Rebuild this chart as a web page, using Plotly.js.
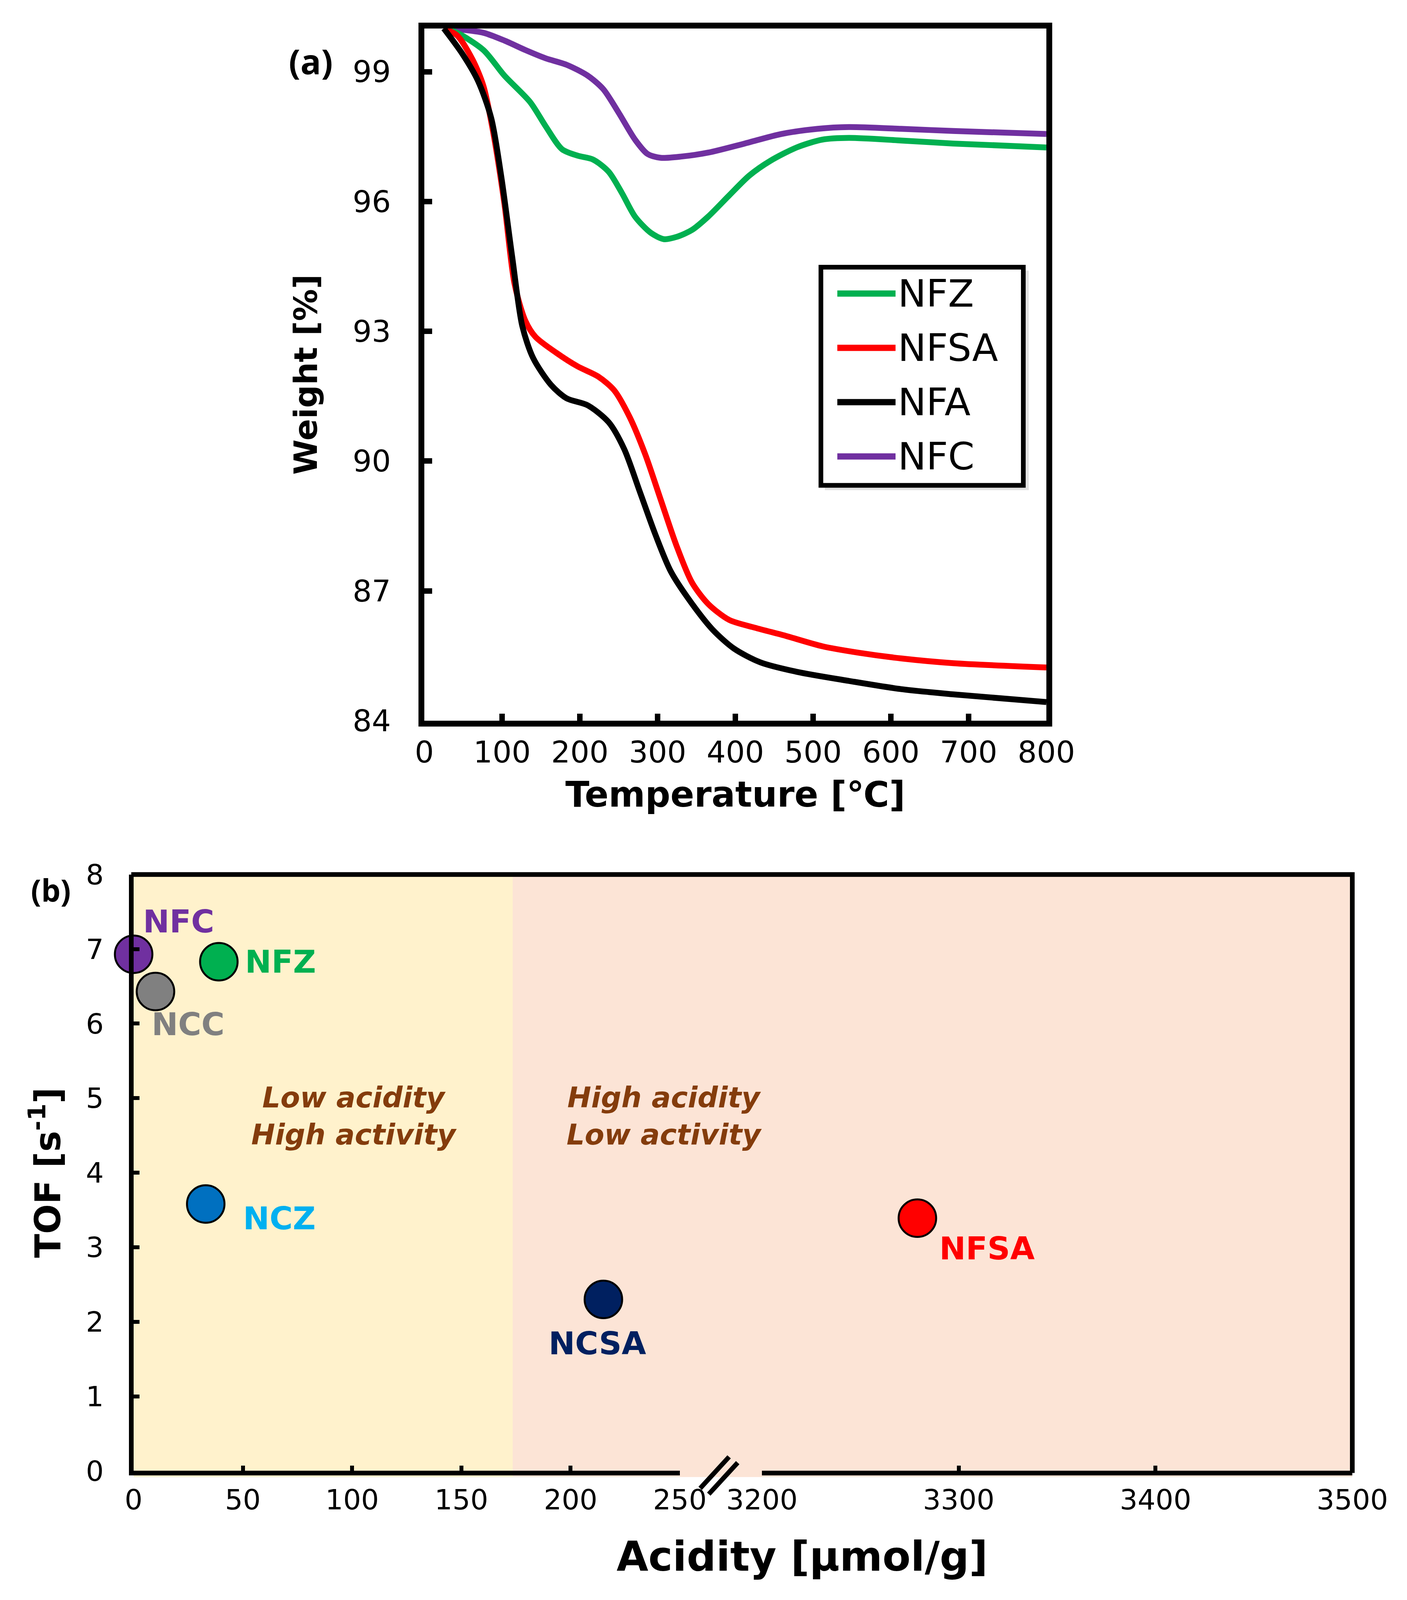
<!DOCTYPE html>
<html><head><meta charset="utf-8">
<script src="https://cdn.plot.ly/plotly-3.0.1.min.js"></script>
<style>html,body{margin:0;padding:0;background:#fff;overflow:hidden;}#chart{width:3601px;height:4096px;}</style>
</head><body><div id="chart"></div>
<script>
// ================= DATA: (a) TGA curves =================
const seriesNames = ['NFZ', 'NFSA', 'NFA', 'NFC'];

const nfzTemp   = [25, 42, 76, 103, 136, 156, 177, 197, 217, 237, 254, 271, 291, 308, 324, 344, 365, 392, 418, 445, 479, 512, 546, 613, 680, 800];
const nfzWeight = [100, 99.9, 99.5, 98.91, 98.3, 97.74, 97.21, 97.06, 96.97, 96.69, 96.2, 95.65, 95.28, 95.13, 95.18, 95.34, 95.65, 96.14, 96.6, 96.94, 97.25, 97.43, 97.47, 97.41, 97.34, 97.25];

const nfsaTemp   = [25, 42, 62, 76, 89, 103, 116, 130, 143, 170, 197, 224, 244, 264, 284, 304, 324, 344, 365, 392, 425, 465, 512, 559, 613, 680, 800];
const nfsaWeight = [100, 99.84, 99.28, 98.67, 97.56, 95.95, 94.1, 93.24, 92.87, 92.5, 92.19, 91.95, 91.64, 91.02, 90.16, 89.11, 88.06, 87.2, 86.7, 86.33, 86.15, 85.96, 85.72, 85.57, 85.44, 85.33, 85.23];

const nfaTemp   = [25, 49, 69, 86, 99, 113, 126, 140, 163, 183, 210, 237, 257, 277, 297, 317, 344, 371, 398, 432, 479, 546, 613, 680, 800];
const nfaWeight = [100, 99.41, 98.79, 97.93, 96.57, 94.72, 93.12, 92.38, 91.76, 91.45, 91.29, 90.9, 90.28, 89.3, 88.31, 87.45, 86.71, 86.1, 85.67, 85.35, 85.13, 84.92, 84.73, 84.61, 84.43];

const nfcTemp   = [25, 49, 76, 103, 130, 156, 183, 210, 230, 250, 271, 287, 304, 331, 365, 412, 459, 506, 546, 613, 680, 800];
const nfcWeight = [100, 99.97, 99.9, 99.72, 99.5, 99.31, 99.16, 98.91, 98.6, 98.05, 97.43, 97.1, 97.01, 97.04, 97.13, 97.34, 97.56, 97.68, 97.72, 97.68, 97.63, 97.56];

const tempTicks   = [0, 100, 200, 300, 400, 500, 600, 700, 800];
const weightTicks = [84, 87, 90, 93, 96, 99];

// ================= DATA: (b) TOF vs acidity =================
const sampleNames   = ['NFC', 'NFZ', 'NCC', 'NCZ', 'NCSA', 'NFSA'];
const sampleAcidity = [0, 39, 10, 33, 215, 3279];
const sampleTOF     = [6.93, 6.83, 6.43, 3.58, 2.30, 3.39];

const lowAcidityLimit = 173.5;     // boundary between shaded regions
const breakLow  = 250;             // end of first acidity segment
const breakHigh = 3200;            // start of second acidity segment
const acidityTicksLow  = [0, 50, 100, 150, 200, 250];
const acidityTicksHigh = [3200, 3300, 3400, 3500];
const tofTicks = [0, 1, 2, 3, 4, 5, 6, 7, 8];
const regionLines = [['Low acidity', 'High activity'], ['High acidity', 'Low activity']];

// ================= STYLE / LAYOUT =================
// Reference frame is 3601 x 4671; the viewport is 3601 x 4096, so the
// design keeps the same paper fractions (vertical squeeze).
const W = 3601, REF_H = 4671;
const H = Math.min(window.innerHeight || 4096, REF_H);
const KY = H / REF_H;
const px = x => x / W;
const py = y => 1 - y / REF_H;
const vy = v => v * KY;

document.getElementById('chart').style.height = H + 'px';

const seriesColors = {NFZ: '#00B050', NFSA: '#FF0000', NFA: '#000000', NFC: '#7030A0'};
const seriesData = {
  NFZ: [nfzTemp, nfzWeight], NFSA: [nfsaTemp, nfsaWeight],
  NFA: [nfaTemp, nfaWeight], NFC: [nfcTemp, nfcWeight]
};
const markerFill  = {NFC: '#7030A0', NFZ: '#00B050', NCC: '#808080', NCZ: '#0070C0', NCSA: '#002060', NFSA: '#FF0000'};
const labelColor  = {NFC: '#7030A0', NFZ: '#00B050', NCC: '#808080', NCZ: '#00B0F0', NCSA: '#002060', NFSA: '#FF0000'};
const labelShift  = {NFC: [115, 96], NFZ: [158, 0], NCC: [84, -95], NCZ: [188, -42], NCSA: [-15, -128], NFSA: [178, -88]};
const regionPos = [{x: 101, y: 4.76}, {x: 242.8, y: 4.76}];

const FONT_A = 'DejaVu Sans, sans-serif';

const traces = [];
['NFC', 'NFZ', 'NFSA', 'NFA'].forEach(name => {
  traces.push({
    type: 'scatter', mode: 'lines', name: name,
    x: seriesData[name][0], y: seriesData[name][1],
    xaxis: 'x3', yaxis: 'y3',
    line: {color: seriesColors[name], width: 15, shape: 'spline', smoothing: 0.8},
    showlegend: false, hoverinfo: 'skip'
  });
});

function pointsWhere(pred) {
  return sampleNames.map((_, i) => i).filter(i => pred(sampleAcidity[i]));
}
[[pointsWhere(a => a <= breakLow), 'x'], [pointsWhere(a => a >= breakHigh), 'x2']].forEach(([idx, xa]) => {
  traces.push({
    type: 'scatter', mode: 'markers',
    x: idx.map(i => sampleAcidity[i]), y: idx.map(i => sampleTOF[i]),
    xaxis: xa, yaxis: 'y', cliponaxis: false, showlegend: false, hoverinfo: 'skip',
    marker: {size: 96, color: idx.map(i => markerFill[sampleNames[i]]), line: {color: '#000', width: 5}}
  });
});

const shapes = [];
const annotations = [];

// ---- backgrounds of (b)
shapes.push({type: 'rect', xref: 'paper', yref: 'paper', x0: px(342), x1: px(3461), y0: py(4312), y1: py(2553),
  fillcolor: '#FCE4D6', line: {width: 0}, layer: 'below'});
shapes.push({type: 'rect', xref: 'x', yref: 'paper', x0: 0, x1: lowAcidityLimit, y0: py(4312), y1: py(2553),
  fillcolor: '#FFF2CC', line: {width: 0}, layer: 'below'});
// frame top + right of (b)
shapes.push({type: 'line', xref: 'paper', yref: 'paper', x0: px(336), x1: px(3467), y0: py(2553), y1: py(2553), line: {color: '#000', width: 12}});
shapes.push({type: 'line', xref: 'paper', yref: 'paper', x0: px(3461), x1: px(3461), y0: py(2553), y1: py(4300), line: {color: '#000', width: 12}});
// axis break marks
shapes.push({type: 'line', xref: 'paper', yref: 'paper', x0: px(1792), y0: py(4345), x1: px(1866), y1: py(4253), line: {color: '#000', width: 12}});
shapes.push({type: 'line', xref: 'paper', yref: 'paper', x0: px(1814), y0: py(4362), x1: px(1888), y1: py(4270), line: {color: '#000', width: 12}});

// ---- manual legend for (a)
const lg = {x0: 2101, x1: 2619, y0: 780, y1: 1417, row0: 857, step: 158.5, lineX0: 2143, lineX1: 2292, textX: 2296};
shapes.push({type: 'rect', xref: 'paper', yref: 'paper', x0: px(lg.x0 + 10), x1: px(lg.x1 + 14), y0: py(lg.y1 + 14), y1: py(lg.y0 + 10),
  fillcolor: 'rgba(0,0,0,0.12)', line: {width: 0}});
shapes.push({type: 'rect', xref: 'paper', yref: 'paper', x0: px(lg.x0), x1: px(lg.x1), y0: py(lg.y1), y1: py(lg.y0),
  fillcolor: '#fff', line: {color: '#000', width: 12}});
seriesNames.forEach((name, i) => {
  const yy = lg.row0 + i * lg.step;
  shapes.push({type: 'line', xref: 'paper', yref: 'paper', x0: px(lg.lineX0), x1: px(lg.lineX1), y0: py(yy), y1: py(yy),
    line: {color: seriesColors[name], width: 16}});
  annotations.push({xref: 'paper', yref: 'paper', x: px(lg.textX), y: py(yy), xanchor: 'left', yanchor: 'middle',
    text: name, showarrow: false, font: {family: FONT_A, size: 97, color: '#000'}});
});

// ---- panel letters
annotations.push({xref: 'paper', yref: 'paper', x: px(795), y: py(178), text: '<b>(a)</b>', showarrow: false,
  xanchor: 'center', yanchor: 'middle', font: {family: 'Open Sans, sans-serif', size: 88, color: '#000'}});
annotations.push({xref: 'paper', yref: 'paper', x: px(130), y: py(2598), text: '<b>(b)</b>', showarrow: false,
  xanchor: 'center', yanchor: 'middle', font: {family: 'Open Sans, sans-serif', size: 78, color: '#000'}});

// ---- point labels of (b)
sampleNames.forEach((name, i) => {
  const xa = sampleAcidity[i] >= breakHigh ? 'x2' : 'x';
  annotations.push({xref: xa, yref: 'y', x: sampleAcidity[i], y: sampleTOF[i], text: '<b>' + name + '</b>',
    showarrow: false, xanchor: 'center', yanchor: 'middle',
    xshift: labelShift[name][0], yshift: vy(labelShift[name][1]),
    font: {family: FONT_A, size: 81, color: labelColor[name]}});
});

// ---- region texts of (b)
regionLines.forEach((lines, r) => {
  annotations.push({xref: 'x', yref: 'y', x: regionPos[r].x, y: regionPos[r].y,
    text: lines.map(t => '<b><i>' + t + '</i></b>').join('<br>'),
    showarrow: false, xanchor: 'center', yanchor: 'middle', align: 'center',
    font: {family: FONT_A, size: 73, color: '#843C0C'}});
});

// ---- x title of (b) spanning both segments
annotations.push({xref: 'paper', yref: 'paper', x: px(2053), y: py(4544), text: '<b>Acidity [μmol/g]</b>', showarrow: false,
  xanchor: 'center', yanchor: 'middle', font: {family: FONT_A, size: 105, color: '#000'}});

const tickA = {family: FONT_A, size: 77, color: '#000'};
const tickB = {family: FONT_A, size: 72, color: '#000'};

const layout = {
  width: W, height: H,
  margin: {l: 0, r: 0, t: 0, b: 0, pad: 0},
  paper_bgcolor: '#fff', plot_bgcolor: 'rgba(0,0,0,0)',
  showlegend: false,
  font: {family: FONT_A, color: '#000'},
  // (a)
  xaxis3: {domain: [px(1086), px(2678)], anchor: 'y3', range: [0, 800], tickvals: tempTicks,
    showline: true, mirror: true, linecolor: '#000', linewidth: 15, showgrid: false, zeroline: false,
    ticks: 'inside', ticklen: vy(20), tickwidth: 14, tickcolor: '#000', ticklabelstandoff: vy(40),
    tickfont: tickA,
    title: {text: '<b>Temperature [℃]</b>', font: {family: FONT_A, size: 90, color: '#000'}, standoff: vy(45)}},
  yaxis3: {domain: [py(2104), py(83)], anchor: 'x3', range: [84, 100], tickvals: weightTicks,
    showline: true, mirror: true, linecolor: '#000', linewidth: 15, showgrid: false, zeroline: false,
    ticks: 'inside', ticklen: 20, tickwidth: 14, tickcolor: '#000', ticklabelstandoff: 55,
    tickfont: tickA,
    title: {text: '<b>Weight [%]</b>', font: {family: FONT_A, size: 82, color: '#000'}, standoff: 70}},
  // (b)
  xaxis: {domain: [px(342), px(1740)], anchor: 'y', range: [0, breakLow], tickvals: acidityTicksLow,
    showline: true, linecolor: '#000', linewidth: 12, showgrid: false, zeroline: false,
    ticks: 'inside', ticklen: vy(15), tickwidth: 10, tickcolor: '#000', ticklabelstandoff: vy(36),
    tickfont: tickB},
  xaxis2: {domain: [px(1950), px(3461)], anchor: 'y', range: [breakHigh, 3500], tickvals: acidityTicksHigh,
    showline: true, linecolor: '#000', linewidth: 12, showgrid: false, zeroline: false,
    ticks: 'inside', ticklen: vy(15), tickwidth: 10, tickcolor: '#000', ticklabelstandoff: vy(36),
    tickfont: tickB},
  yaxis: {domain: [py(4294), py(2553)], anchor: 'x', range: [0, 8], tickvals: tofTicks,
    showline: true, linecolor: '#000', linewidth: 12, showgrid: false, zeroline: false,
    ticks: 'inside', ticklen: 15, tickwidth: 10, tickcolor: '#000', ticklabelstandoff: 50,
    tickfont: tickB,
    title: {text: '<b>TOF [s<sup>-1</sup>]</b>', font: {family: FONT_A, size: 90, color: '#000'}, standoff: 40}},
  shapes: shapes,
  annotations: annotations
};

Plotly.newPlot('chart', traces, layout, {staticPlot: true, displayModeBar: false});
</script>
</body></html>
